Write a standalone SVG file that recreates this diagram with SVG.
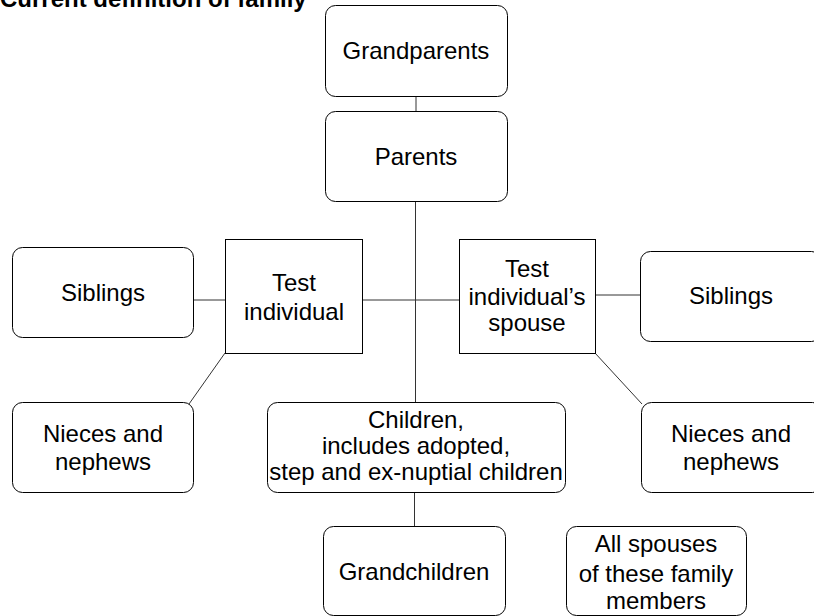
<svg xmlns="http://www.w3.org/2000/svg" width="814" height="616" viewBox="0 0 814 616">
<style>
.box{fill:#fff;stroke:#000;stroke-width:1}
.t{font-family:"Liberation Sans",Arial,sans-serif;font-size:24px;fill:#000;text-anchor:middle}
.title{font-family:"Liberation Sans",Arial,sans-serif;font-size:24px;font-weight:bold;fill:#000}
.c{stroke:#333;stroke-width:1;fill:none}
</style>
<rect width="814" height="616" fill="#fff"/>
<text class="title" x="0" y="7">Current definition of family</text>
<g id="connectors">
<line class="c" x1="416" y1="96" x2="416" y2="111"/>
<line class="c" x1="415.5" y1="201" x2="415.5" y2="402"/>
<line class="c" x1="193" y1="300" x2="225" y2="300"/>
<line class="c" x1="362" y1="300" x2="459" y2="300"/>
<line class="c" x1="595" y1="295" x2="640" y2="295"/>
<line class="c" x1="225" y1="353" x2="189" y2="404"/>
<line class="c" x1="595" y1="353" x2="642" y2="404"/>
<line class="c" x1="414.5" y1="492" x2="414.5" y2="526"/>
</g>
<g id="grandparents"><rect class="box" x="325.5" y="5.5" width="182" height="91" rx="10"/><text class="t" x="416" y="59">Grandparents</text></g>
<g id="parents"><rect class="box" x="325.5" y="111.5" width="182" height="90" rx="10"/><text class="t" x="416" y="165">Parents</text></g>
<g id="test-individual"><rect class="box" x="225.5" y="239.5" width="137" height="114"/><text class="t" x="294" y="291">Test</text><text class="t" x="294" y="320">individual</text></g>
<g id="spouse"><rect class="box" x="459.5" y="239.5" width="136" height="114"/><text class="t" x="527" y="277">Test</text><text class="t" x="527" y="305">individual’s</text><text class="t" x="527" y="331">spouse</text></g>
<g id="siblings-left"><rect class="box" x="12.5" y="247.5" width="181" height="90" rx="10"/><text class="t" x="103" y="301">Siblings</text></g>
<g id="siblings-right"><rect class="box" x="640.5" y="251.5" width="181" height="90" rx="10"/><text class="t" x="731" y="304">Siblings</text></g>
<g id="nieces-left"><rect class="box" x="12.5" y="402.5" width="181" height="90" rx="10"/><text class="t" x="103" y="442">Nieces and</text><text class="t" x="103" y="470">nephews</text></g>
<g id="nieces-right"><rect class="box" x="641.5" y="402.5" width="181" height="90" rx="10"/><text class="t" x="731" y="442">Nieces and</text><text class="t" x="731" y="470">nephews</text></g>
<g id="children"><rect class="box" x="267.5" y="402.5" width="298" height="90" rx="10"/><text class="t" x="416" y="428">Children,</text><text class="t" x="416" y="454">includes adopted,</text><text class="t" x="416" y="480">step and ex-nuptial children</text></g>
<g id="grandchildren"><rect class="box" x="323.5" y="526.5" width="182" height="89" rx="10"/><text class="t" x="414" y="580">Grandchildren</text></g>
<g id="all-spouses"><rect class="box" x="566.5" y="526.5" width="180" height="89" rx="10"/><text class="t" x="656" y="552">All spouses</text><text class="t" x="656" y="582">of these family</text><text class="t" x="656" y="609">members</text></g>
</svg>
